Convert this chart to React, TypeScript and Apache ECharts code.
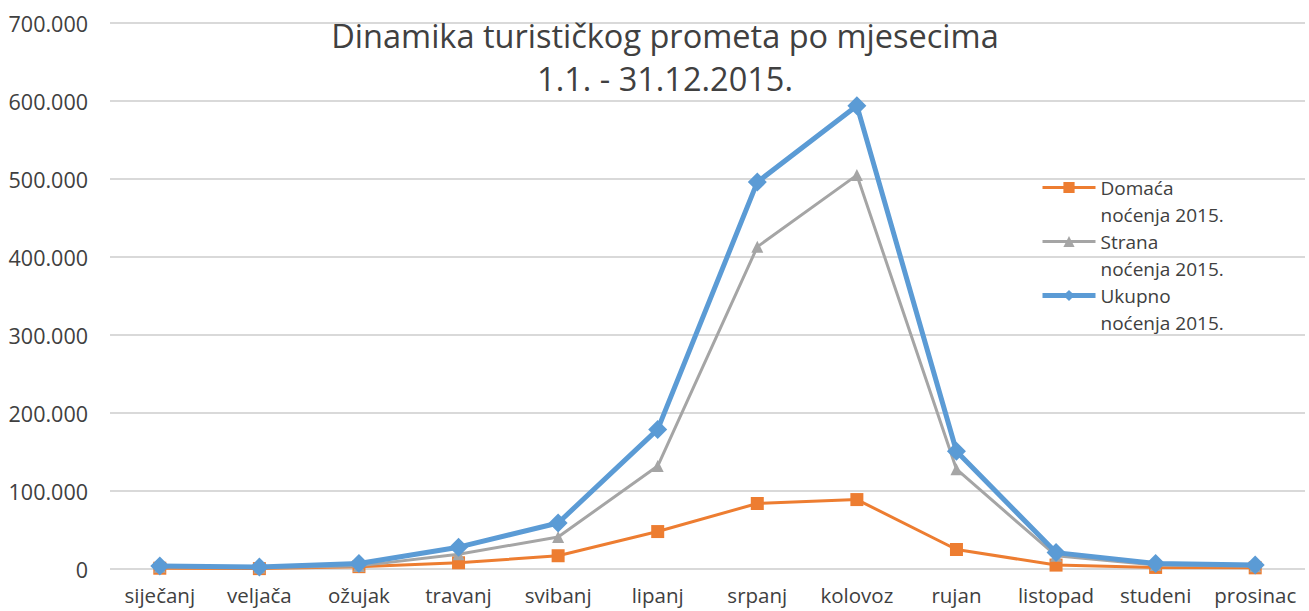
import React, { useEffect, useRef } from "react";
import * as echarts from "echarts";

const months = ["siječanj", "veljača", "ožujak", "travanj", "svibanj", "lipanj", "srpanj", "kolovoz", "rujan", "listopad", "studeni", "prosinac"];
const domaca = [1000, 500, 3000, 8000, 17000, 48000, 84000, 89000, 25000, 5000, 2000, 1500];
const strana = [3000, 2000, 4000, 19000, 41000, 132000, 413000, 505000, 128000, 17000, 5000, 3500];
const ukupno = [4000, 2500, 7000, 28000, 59000, 179000, 496000, 594000, 151000, 21000, 7000, 5000];
const seriesNames = ["Domaća\nnoćenja 2015.", "Strana\nnoćenja 2015.", "Ukupno\nnoćenja 2015."];
const titleText = "Dinamika turističkog prometa po mjesecima\n1.1. - 31.12.2015.";

const FONT = "Open Sans";
const TXT = "#404040";

export default function App() {
  const ref = useRef<HTMLDivElement>(null);
  useEffect(() => {
    const chart = echarts.init(ref.current!, null, { renderer: "svg" });
    chart.setOption({
      animation: false,
      backgroundColor: "#ffffff",
      title: {
        text: titleText,
        left: 660,
        top: 9,
        textAlign: "center",
        textStyle: { fontFamily: FONT, fontSize: 32.5, fontWeight: "normal", color: TXT, lineHeight: 43 },
      },
      legend: {
        orient: "vertical",
        left: 1035,
        top: 142,
        itemWidth: 53,
        itemHeight: 14,
        itemGap: -27,
        data: [
          { name: seriesNames[0], lineStyle: { width: 3 } },
          { name: seriesNames[1], lineStyle: { width: 3 } },
          { name: seriesNames[2], lineStyle: { width: 5 } },
        ],
        formatter: (n: string) => "\n" + n,
        textStyle: { fontFamily: FONT, fontSize: 19, color: TXT, lineHeight: 27 },
      },
      grid: { left: 110, right: 4, top: 23, bottom: 42, containLabel: false },
      xAxis: {
        type: "category",
        data: months,
        boundaryGap: true,
        axisLine: { show: false },
        axisTick: { show: false },
        axisLabel: { fontFamily: FONT, fontSize: 20.5, color: TXT, margin: 15, interval: 0 },
      },
      yAxis: {
        type: "value",
        min: 0,
        max: 700000,
        interval: 100000,
        axisLine: { show: false },
        axisTick: { show: false },
        splitLine: { lineStyle: { color: "#d9d9d9", width: 2 } },
        axisLabel: {
          fontFamily: FONT,
          fontSize: 21.5,
          color: TXT,
          margin: 22,
          formatter: (v: number) => (v === 0 ? "0" : v.toLocaleString("de-DE")),
        },
      },
      series: [
        {
          name: seriesNames[0],
          type: "line",
          data: domaca,
          symbol: "rect",
          symbolSize: 13,
          itemStyle: { color: "#ED7D31" },
          lineStyle: { color: "#ED7D31", width: 3 },
          z: 2,
        },
        {
          name: seriesNames[1],
          type: "line",
          data: strana,
          symbol: "triangle",
          symbolSize: 12,
          itemStyle: { color: "#A5A5A5" },
          lineStyle: { color: "#A5A5A5", width: 3 },
          z: 3,
        },
        {
          name: seriesNames[2],
          type: "line",
          data: ukupno,
          symbol: "diamond",
          symbolSize: 19,
          itemStyle: { color: "#5B9BD5" },
          lineStyle: { color: "#5B9BD5", width: 5 },
          z: 4,
        },
      ],
    });
    return () => chart.dispose();
  }, []);
  return <div ref={ref} style={{ width: 1309, height: 611, position: "absolute", left: 0, top: 0 }} />;
}
